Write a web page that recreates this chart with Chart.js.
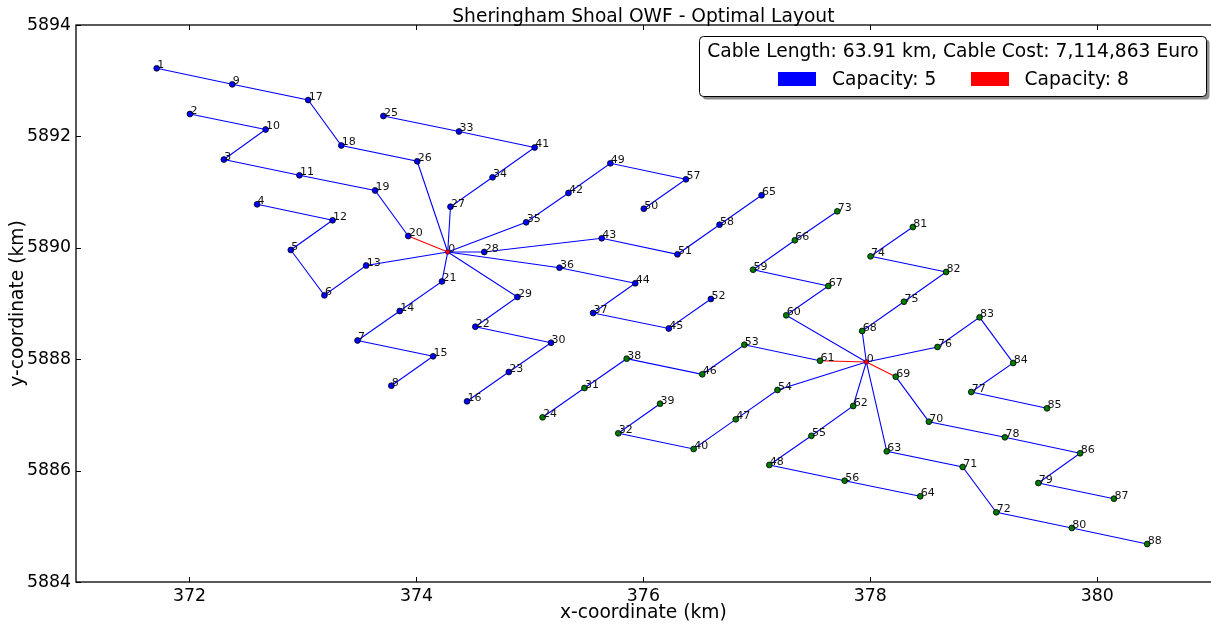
<!DOCTYPE html>
<html>
<head>
<meta charset="utf-8">
<title>Sheringham Shoal OWF - Optimal Layout</title>
<script src="https://cdn.jsdelivr.net/npm/chart.js@4/dist/chart.umd.min.js"></script>
<style>
  html, body { margin: 0; padding: 0; background: #ffffff; }
  #wrap { width: 1211px; height: 628px; }
</style>
</head>
<body>
<div id="wrap"><canvas id="layout" width="1211" height="628"></canvas></div>
<script>
// Turbine positions in km; the index is the turbine number (index 0 unused)
const turbineX = [null,
  371.711, 372.004, 372.303, 372.596, 372.893, 373.189, 373.481, 373.779,
  372.377, 372.671, 372.969, 373.261, 373.557, 373.853, 374.147, 374.446,
  373.046, 373.338, 373.636, 373.928, 374.225, 374.519, 374.814, 375.112,
  373.709, 374.007, 374.300, 374.598, 374.890, 375.186, 375.481, 375.779,
  374.375, 374.671, 374.967, 375.261, 375.557, 375.853, 376.147, 376.443,
  375.042, 375.340, 375.633, 375.928, 376.224, 376.519, 376.814, 377.110,
  375.709, 376.004, 376.300, 376.595, 376.890, 377.182, 377.481, 377.774,
  376.375, 376.671, 376.967, 377.259, 377.557, 377.849, 378.145, 378.440,
  377.042, 377.335, 377.630, 377.928, 378.224, 378.516, 378.814, 379.110,
  377.709, 378.002, 378.296, 378.592, 378.890, 379.186, 379.481, 379.776,
  378.375, 378.668, 378.963, 379.259, 379.557, 379.849, 380.147, 380.440
];
const turbineY = [null,
  5893.223, 5892.402, 5891.585, 5890.781, 5889.961, 5889.147, 5888.336, 5887.524,
  5892.935, 5892.124, 5891.302, 5890.494, 5889.682, 5888.865, 5888.052, 5887.244,
  5892.653, 5891.837, 5891.029, 5890.212, 5889.397, 5888.583, 5887.770, 5886.957,
  5892.366, 5891.553, 5890.738, 5889.925, 5889.117, 5888.296, 5887.483, 5886.670,
  5892.088, 5891.266, 5890.458, 5889.643, 5888.829, 5888.009, 5887.201, 5886.388,
  5891.801, 5890.984, 5890.171, 5889.363, 5888.551, 5887.729, 5886.920, 5886.101,
  5891.517, 5890.702, 5889.883, 5889.081, 5888.260, 5887.447, 5886.625, 5885.819,
  5891.230, 5890.415, 5889.607, 5888.788, 5887.973, 5887.160, 5886.346, 5885.539,
  5890.943, 5890.135, 5889.314, 5888.506, 5887.686, 5886.878, 5886.065, 5885.251,
  5890.655, 5889.847, 5889.032, 5888.219, 5887.411, 5886.598, 5885.777, 5884.970,
  5890.373, 5889.566, 5888.752, 5887.932, 5887.118, 5886.311, 5885.496, 5884.682
];

// Offshore substations (west, east)
const substationX = [374.276, 377.965];
const substationY = [5889.925, 5887.950];

// Cable strings, listed from the substation outwards
const westStrings = [
  [26, 18, 17, 9, 1],
  [20, 19, 11, 3, 10, 2],
  [13, 6, 5, 12, 4],
  [27, 34, 41, 33, 25],
  [35, 42, 49, 57, 50],
  [28, 43, 51, 58, 65],
  [36, 44, 37, 45, 52],
  [21, 14, 7, 15, 8],
  [29, 22, 30, 23, 16]
];
const eastStrings = [
  [61, 53, 46, 38, 31, 24],
  [54, 47, 40, 32, 39],
  [62, 55, 48, 56, 64],
  [63, 71, 72, 80, 88],
  [69, 70, 78, 86, 79, 87],
  [76, 83, 84, 77, 85],
  [68, 75, 82, 74, 81],
  [60, 67, 59, 66, 73]
];

// Cable types: how many turbines a cable can carry, and its colour
const cableCapacities = [5, 8];
const cableColors = ['#0000ff', '#ff0000'];
const legendLabels = ['Capacity: 5', 'Capacity: 8'];
const summaryText = 'Cable Length: 63.91 km, Cable Cost: 7,114,863 Euro';

const xTicks = [372, 374, 376, 378, 380];
const yTicks = [5884, 5886, 5888, 5890, 5892, 5894];

const FONT = '"DejaVu Sans", sans-serif';

// Colour of a cable that carries `load` turbines downstream
function cableColorFor(load) {
  const k = cableCapacities.findIndex(c => c >= load);
  return cableColors[k < 0 ? cableColors.length - 1 : k];
}

function stringDataset(sub, ids) {
  const pts = [{ x: substationX[sub], y: substationY[sub] }]
    .concat(ids.map(id => ({ x: turbineX[id], y: turbineY[id] })));
  return {
    type: 'scatter',
    data: pts,
    showLine: true,
    borderWidth: 1.1,
    borderColor: cableColors[0],
    pointRadius: 0,
    pointHoverRadius: 0,
    tension: 0,
    order: 2,
    segment: {
      borderColor: ctx => cableColorFor(ids.length - ctx.p0DataIndex)
    }
  };
}

function markerDataset(ids, fill) {
  return {
    type: 'scatter',
    data: ids.map(id => ({ x: turbineX[id], y: turbineY[id] })),
    pointRadius: 2.9,
    pointBackgroundColor: fill,
    pointBorderColor: '#000000',
    pointBorderWidth: 0.8,
    showLine: false,
    order: 1
  };
}

const westIds = westStrings.flat();
const eastIds = eastStrings.flat();

const datasets = []
  .concat(westStrings.map(s => stringDataset(0, s)))
  .concat(eastStrings.map(s => stringDataset(1, s)))
  .concat([markerDataset(westIds, '#0000ff'), markerDataset(eastIds, '#007a00')])
  .concat([{
    type: 'scatter',
    data: substationX.map((sx, i) => ({ x: sx, y: substationY[i] })),
    pointRadius: 2.4,
    pointBackgroundColor: '#ff0000',
    pointBorderColor: '#000080',
    pointBorderWidth: 0.6,
    showLine: false,
    order: 0
  }]);

function strokeLine(ctx, x1, y1, x2, y2) {
  ctx.beginPath(); ctx.moveTo(x1, y1); ctx.lineTo(x2, y2); ctx.stroke();
}

// Frame, inward ticks, axis text, turbine numbers and the summary legend
const decorations = {
  id: 'decorations',
  afterDatasetsDraw(chart) {
    const { ctx, scales: { x, y } } = chart;
    ctx.save();
    ctx.font = '11px ' + FONT;
    ctx.fillStyle = '#111111';
    ctx.textAlign = 'left';
    ctx.textBaseline = 'alphabetic';
    substationX.forEach((sx, i) => {
      ctx.fillText('0', x.getPixelForValue(sx) + 0.5, y.getPixelForValue(substationY[i]));
    });
    for (let id = 1; id < turbineX.length; id++) {
      ctx.fillText(String(id), x.getPixelForValue(turbineX[id]) + 0.5, y.getPixelForValue(turbineY[id]));
    }
    ctx.restore();
  },
  afterDraw(chart) {
    const { ctx, chartArea: a, scales: { x, y } } = chart;
    ctx.save();

    // axes frame (the right spine lies just past the canvas edge)
    ctx.strokeStyle = '#000000';
    ctx.lineWidth = 1.3;
    ctx.strokeRect(a.left, a.top, a.right - a.left + 20, a.bottom - a.top);

    // inward tick marks
    ctx.lineWidth = 1;
    xTicks.forEach(v => {
      const px = Math.round(x.getPixelForValue(v)) + 0.5;
      strokeLine(ctx, px, a.bottom, px, a.bottom - 5);
      strokeLine(ctx, px, a.top, px, a.top + 5);
    });
    yTicks.forEach(v => {
      const py = Math.round(y.getPixelForValue(v)) + 0.5;
      strokeLine(ctx, a.left, py, a.left + 5, py);
    });

    // tick labels
    ctx.fillStyle = '#000000';
    ctx.font = '17.33px ' + FONT;
    ctx.textAlign = 'right';
    ctx.textBaseline = 'middle';
    yTicks.forEach(v => ctx.fillText(String(v), a.left - 5, y.getPixelForValue(v)));
    ctx.textAlign = 'center';
    ctx.textBaseline = 'alphabetic';
    xTicks.forEach(v => ctx.fillText(String(v), x.getPixelForValue(v), a.bottom + 18.5));

    // axis titles and chart title, centred on the full axes span
    const midX = (x.getPixelForValue(371) + x.getPixelForValue(381)) / 2;
    ctx.font = '18.67px ' + FONT;
    ctx.fillText('x-coordinate (km)', midX, 618);
    ctx.fillText('Sheringham Shoal OWF - Optimal Layout', midX, 22);
    ctx.save();
    ctx.translate(18, (a.top + a.bottom) / 2);
    ctx.rotate(-Math.PI / 2);
    ctx.textBaseline = 'middle';
    ctx.fillText('y-coordinate (km)', 0, 0);
    ctx.restore();

    // legend box with shadow
    const bx = 699.5, by = 36.5, bw = 507, bh = 60, r = 4;
    ctx.fillStyle = 'rgba(0,0,0,0.45)';
    ctx.beginPath(); ctx.roundRect(bx + 3, by + 3, bw, bh, r); ctx.fill();
    ctx.fillStyle = '#ffffff';
    ctx.strokeStyle = '#000000';
    ctx.lineWidth = 1;
    ctx.beginPath(); ctx.roundRect(bx, by, bw, bh, r); ctx.fill(); ctx.stroke();

    ctx.fillStyle = '#000000';
    ctx.textAlign = 'center';
    ctx.fillText(summaryText, bx + bw / 2, 57.3);

    const patchX = [778, 971];
    const textX = [832, 1024.5];
    ctx.textAlign = 'left';
    legendLabels.forEach((lab, i) => {
      ctx.fillStyle = cableColors[i];
      ctx.fillRect(patchX[i], 72, 38, 14);
      ctx.fillStyle = '#000000';
      ctx.fillText(lab, textX[i], 85);
    });

    ctx.restore();
  }
};

new Chart(document.getElementById('layout'), {
  type: 'scatter',
  data: { datasets },
  options: {
    responsive: false,
    animation: false,
    devicePixelRatio: 1,
    layout: { padding: { top: 25, right: 0, bottom: 0, left: 0 } },
    plugins: {
      legend: { display: false },
      title: { display: false },
      tooltip: { enabled: false }
    },
    events: [],
    scales: {
      x: {
        type: 'linear',
        min: 371,
        max: 380.96,
        grid: { display: false },
        border: { display: false },
        ticks: { display: false },
        afterBuildTicks: s => { s.ticks = xTicks.map(v => ({ value: v })); },
        afterFit: s => { s.height = 46; }
      },
      y: {
        type: 'linear',
        min: 5884,
        max: 5894,
        grid: { display: false },
        border: { display: false },
        ticks: { display: false },
        afterBuildTicks: s => { s.ticks = yTicks.map(v => ({ value: v })); },
        afterFit: s => { s.width = 76; }
      }
    }
  },
  plugins: [decorations]
});
</script>
</body>
</html>
